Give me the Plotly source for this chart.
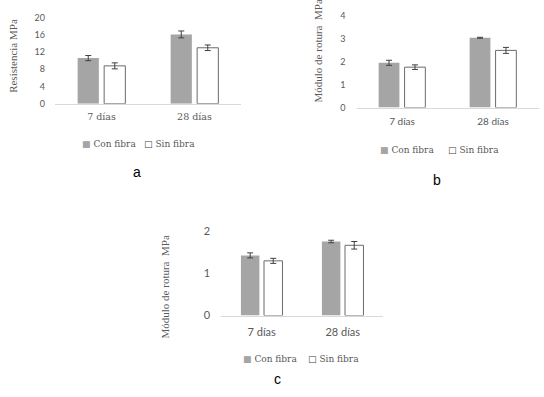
import plotly.graph_objects as go

W, H = 544, 397

categories = ["7 días", "28 días"]
series_names = ["Con fibra", "Sin fibra"]

# Panel a: Resistencia (MPa)
a_con = [10.6, 16.1]
a_con_err = [0.6, 0.8]
a_sin = [8.8, 13.0]
a_sin_err = [0.7, 0.65]

# Panel b: Módulo de rotura (MPa)
b_con = [1.95, 3.04]
b_con_err = [0.11, 0.02]
b_sin = [1.76, 2.49]
b_sin_err = [0.10, 0.13]

# Panel c: Módulo de rotura (MPa)
c_con = [1.43, 1.76]
c_con_err = [0.06, 0.03]
c_sin = [1.30, 1.67]
c_sin_err = [0.06, 0.09]

a_ticks = [0, 4, 8, 12, 16, 20]
b_ticks = [0, 1, 2, 3, 4]
c_ticks = [0, 1, 2]

GRAY = "#a5a5a5"
EDGE = "#6b6b6b"
TXT = "#595959"
ERR = "#404040"
SERIF = "Liberation Serif, serif"
SERIF2 = "DejaVu Serif, serif"
SANS = "Lato, sans-serif"


def px(x):
    return x / W


def py(y):
    return 1 - y / H


fig = go.Figure()

panels = [
    ("x", "y", a_con, a_con_err, a_sin, a_sin_err),
    ("x2", "y2", b_con, b_con_err, b_sin, b_sin_err),
    ("x3", "y3", c_con, c_con_err, c_sin, c_sin_err),
]
for xa, ya, con, con_e, sin, sin_e in panels:
    fig.add_trace(go.Bar(
        x=categories, y=con, name=series_names[0], xaxis=xa, yaxis=ya,
        marker=dict(color=GRAY, line=dict(width=0)),
        error_y=dict(type="data", array=con_e, color=ERR, thickness=1, width=3),
        showlegend=False,
    ))
    fig.add_trace(go.Bar(
        x=categories, y=sin, name=series_names[1], xaxis=xa, yaxis=ya,
        marker=dict(color="white", line=dict(color=EDGE, width=1)),
        error_y=dict(type="data", array=sin_e, color=ERR, thickness=1, width=3),
        showlegend=False,
    ))

xcommon = dict(type="category", range=[-0.5, 1.5], showline=True, linecolor="#d9d9d9",
               linewidth=1, ticks="", showgrid=False, zeroline=False, fixedrange=True)
ycommon = dict(showgrid=False, zeroline=False, showline=False, ticks="",
               fixedrange=True)

fig.update_layout(
    width=W, height=H,
    margin=dict(l=0, r=0, t=0, b=0),
    paper_bgcolor="white", plot_bgcolor="white",
    barmode="group", bargap=0.43, bargroupgap=0.2,
    showlegend=False,
    xaxis=dict(**xcommon, domain=[px(55), px(241)], anchor="y",
               tickfont=dict(family=SERIF2, size=9.5, color=TXT), ticklabelstandoff=4),
    yaxis=dict(**ycommon, domain=[py(100), py(11)], anchor="x", range=[0, 20],
               tickvals=a_ticks, ticklabelstandoff=9,
               tickfont=dict(family=SANS, size=9, color=TXT)),
    xaxis2=dict(**xcommon, domain=[px(356.5), px(538.5)], anchor="y2",
                tickfont=dict(family=SANS, size=10, color=TXT), ticklabelstandoff=4),
    yaxis2=dict(**ycommon, domain=[py(104), py(9)], anchor="x2", range=[0, 4],
                tickvals=b_ticks, ticklabelstandoff=10,
                tickfont=dict(family=SANS, size=9, color=TXT)),
    xaxis3=dict(**xcommon, domain=[px(221.2), px(383.2)], anchor="y3",
                tickfont=dict(family=SANS, size=11, color=TXT), ticklabelstandoff=6),
    yaxis3=dict(**ycommon, domain=[py(319), py(232)], anchor="x3", range=[0, 2],
                tickvals=c_ticks, ticklabelstandoff=10,
                tickfont=dict(family=SANS, size=11, color=TXT)),
)

ann = []
# y-axis titles
for text, x, y, size in [
    ("Resistencia MPa", 13, 50.5, 11),
    ("Módulo de rotura  MPa", 318, 46, 11),
    ("Módulo de rotura  MPa", 165, 290, 11),
]:
    ann.append(dict(text=text, x=px(x), y=py(y), xref="paper", yref="paper",
                    textangle=-90, showarrow=False, xanchor="center", yanchor="middle",
                    font=dict(family=SERIF, size=size, color=TXT)))

# legends
for xc, xs, y in [(80, 142, 141.7), (378, 446, 148.3), (240.5, 305.5, 364)]:
    ann.append(dict(text=f"<span style='color:{GRAY}'>■</span> {series_names[0]}",
                    x=px(xc), y=py(y), xref="paper", yref="paper", showarrow=False,
                    xanchor="left", yanchor="middle",
                    font=dict(family=SERIF2, size=9, color=TXT)))
    ann.append(dict(text=f"<span style='color:{ERR}'>□</span> {series_names[1]}",
                    x=px(xs), y=py(y), xref="paper", yref="paper", showarrow=False,
                    xanchor="left", yanchor="middle",
                    font=dict(family=SERIF2, size=9, color=TXT)))

# panel captions
for text, x, y in [("a", 137, 171), ("b", 437, 179), ("c", 277, 385)]:
    ann.append(dict(text=text, x=px(x), y=py(y), xref="paper", yref="paper",
                    showarrow=False, xanchor="center", yanchor="middle",
                    font=dict(family="Liberation Sans, sans-serif", size=14, color="black")))

fig.update_layout(annotations=ann)
fig.write_html(
    "out.html",
    config={"displayModeBar": False, "staticPlot": True},
    post_script="document.body.style.margin='0';document.body.style.overflow='hidden';",
)
